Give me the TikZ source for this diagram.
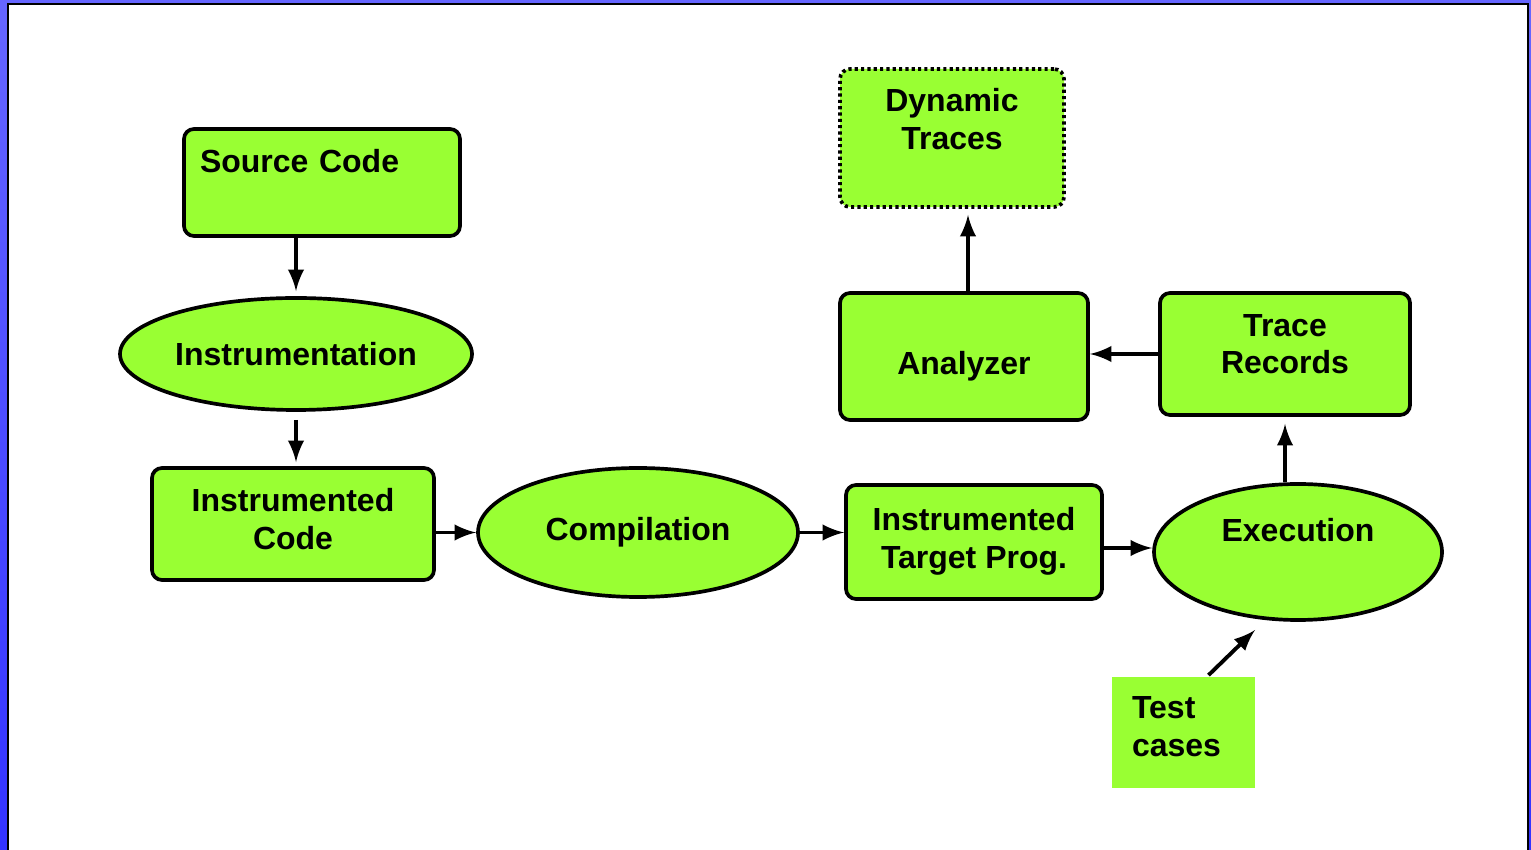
\documentclass[tikz,border=0pt]{standalone}
\usepackage{fontspec}
\setmainfont{Liberation Sans}
\usepackage{xcolor}
\usepackage{tikz}
\usetikzlibrary{shapes.geometric}
\usetikzlibrary{arrows}

\definecolor{stagegreen}{HTML}{99FF33}
\definecolor{frametop}{HTML}{6666FF}
\definecolor{framebot}{HTML}{3333FF}

\tikzset{
    stage/.style={draw, line width=1.05pt, fill=stagegreen, rounded corners=0.1cm,
        inner sep=0pt, align=center, font=\fontsize{9.1}{10.8}\selectfont\bfseries},
    process/.style={stage, ellipse, rounded corners=0pt},
    flow/.style={-latex, line width=1.1pt}
}

\begin{document}
\begin{tikzpicture}
        \useasboundingbox (0, 0) rectangle (15.31, 8.49);
        % frame
        \shade[top color=frametop, bottom color=framebot] (0, 0) rectangle (15.31, 8.49);
        \draw[line width=0.02cm, fill=white] (0.08, -0.2) rectangle (15.28, 8.45);

        % boxes and ellipses
        \node[stage, minimum width=2.76cm, minimum height=1.07cm, text width=2.44cm, align=left]
            (src) at (3.22, 6.665) {Source Code\\[0.06cm]~};
        \node[process, minimum width=3.52cm, minimum height=1.12cm]
            (inst) at (2.96, 4.95) {Instrumentation};
        \node[stage, minimum width=2.82cm, minimum height=1.12cm]
            (icode) at (2.93, 3.25) {Instrumented\\Code\\[-0.28cm]~};
        \node[process, minimum width=3.20cm, minimum height=1.29cm]
            (comp) at (6.38, 3.165) {Compilation};
        \node[stage, minimum width=2.56cm, minimum height=1.14cm]
            (itp) at (9.74, 3.07) {Instrumented\\Target Prog.\\[-0.3cm]~};
        \node[process, minimum width=2.88cm, minimum height=1.36cm]
            (exec) at (12.98, 2.97) {Execution\\[0.06cm]~};
        \node[stage, draw=none, rounded corners=0pt, minimum width=1.43cm, minimum height=1.11cm,
            text width=1.03cm, align=left]
            (test) at (11.835, 1.165) {Test\\cases\\[-0.26cm]~};
        \node[stage, minimum width=2.50cm, minimum height=1.22cm]
            (trace) at (12.85, 4.95) {Trace\\Records\\[-0.18cm]~};
        \node[stage, minimum width=2.48cm, minimum height=1.27cm]
            (ana) at (9.64, 4.925) {\raisebox{-0.1cm}[\height][\depth]{Analyzer}};
        \node[stage, dash pattern=on 0.9pt off 0.9pt, minimum width=2.24cm, minimum height=1.38cm]
            (dyn) at (9.52, 7.11) {Dynamic\\Traces\\~};

        \coordinate (tc) at (12.55, 2.19);

        % arrows
        \draw[flow] (src.south -| inst) -- ([yshift=0.05cm]inst.north);
        \draw[flow] ([yshift=-0.08cm]inst.south) -- ([yshift=0.04cm]inst.south |- icode.north);
        \draw[flow] (icode.east |- comp.west) -- (comp.west);
        \draw[flow] (comp.east) -- (comp.east -| itp.west);
        \draw[flow] ([yshift=0.04cm]itp.east |- exec.west) -- ([yshift=0.04cm]exec.west);
        \draw[flow] (exec.north -| trace) -- ([yshift=-0.07cm]trace.south);
        \draw[flow] (trace.west -| trace.west) -- (trace.west -| ana.east);
        \draw[flow] ([xshift=0.04cm]ana.north) -- ([xshift=0.04cm,yshift=-0.06cm]ana.north |- dyn.south);
        \draw[flow] ([xshift=0.25cm]test.north) -- (tc);
    \end{tikzpicture}
\end{document}
